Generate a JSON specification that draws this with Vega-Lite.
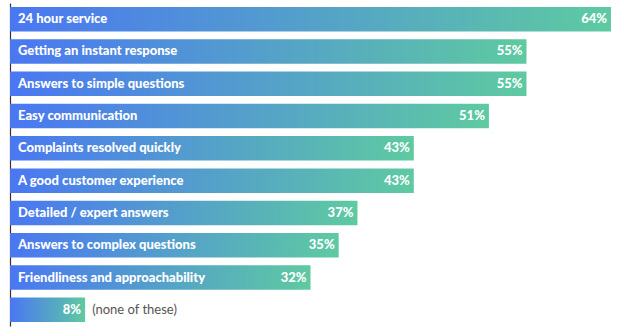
{
  "$schema": "https://vega.github.io/schema/vega-lite/v6.json",
  "width": 601,
  "height": 323,
  "autosize": {"type": "none"},
  "padding": {"left": 10, "top": 3, "right": 13, "bottom": 10},
  "background": "white",
  "config": {"view": {"stroke": null}},
  "data": {
    "values": [
      {"label": "24 hour service", "value": 64, "note": ""},
      {"label": "Getting an instant response", "value": 55, "note": ""},
      {"label": "Answers to simple questions", "value": 55, "note": ""},
      {"label": "Easy communication", "value": 51, "note": ""},
      {"label": "Complaints resolved quickly", "value": 43, "note": ""},
      {"label": "A good customer experience", "value": 43, "note": ""},
      {"label": "Detailed / expert answers", "value": 37, "note": ""},
      {"label": "Answers to complex questions", "value": 35, "note": ""},
      {"label": "Friendliness and approachability", "value": 32, "note": ""},
      {"label": "", "value": 8, "note": "(none of these)"}
    ]
  },
  "encoding": {
    "y": {
      "field": "label",
      "type": "nominal",
      "sort": null,
      "scale": {"paddingInner": 0.24, "paddingOuter": 0.12},
      "axis": {"labels": false, "ticks": false, "title": null, "domainColor": "#333333", "domainWidth": 1.2}
    },
    "x": {
      "field": "value",
      "type": "quantitative",
      "scale": {"domain": [0, 64], "nice": false},
      "axis": null
    }
  },
  "layer": [
    {
      "mark": {
        "type": "bar",
        "color": {
          "gradient": "linear",
          "x1": 0, "y1": 0, "x2": 1, "y2": 0,
          "stops": [
            {"offset": 0, "color": "#4a77f2"},
            {"offset": 1, "color": "#5ecaa1"}
          ]
        }
      }
    },
    {
      "mark": {"type": "text", "align": "left", "baseline": "middle", "color": "white", "font": "Lato", "fontWeight": 900, "fontSize": 13},
      "encoding": {"text": {"field": "label"}, "x": {"value": 8}}
    },
    {
      "mark": {"type": "text", "align": "right", "baseline": "middle", "dx": -4, "color": "white", "font": "Lato", "fontWeight": 900, "fontSize": 13, "text": {"expr": "datum.value + '%'"}}
    },
    {
      "mark": {"type": "text", "align": "left", "baseline": "middle", "dx": 7, "color": "#555555", "font": "Lato", "fontSize": 13},
      "encoding": {"text": {"field": "note"}}
    }
  ]
}
